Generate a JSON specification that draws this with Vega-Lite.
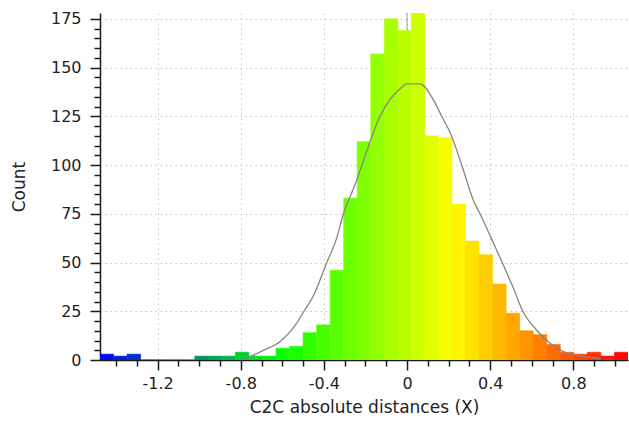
{
  "$schema": "https://vega.github.io/schema/vega-lite/v6.json",
  "width": 528,
  "height": 347,
  "autosize": {"type": "none"},
  "padding": {"left": 100, "top": 13, "right": 1, "bottom": 69},
  "background": "#ffffff",
  "config": {"view": {"stroke": null}, "font": "DejaVu Sans"},
  "datasets": {
    "bins": [
      {"x0": -1.4770, "x1": -1.4119, "count": 3},
      {"x0": -1.4119, "x1": -1.3467, "count": 2},
      {"x0": -1.3467, "x1": -1.2816, "count": 3},
      {"x0": -1.2816, "x1": -1.2165, "count": 0},
      {"x0": -1.2165, "x1": -1.1514, "count": 0},
      {"x0": -1.1514, "x1": -1.0862, "count": 0},
      {"x0": -1.0862, "x1": -1.0211, "count": 0},
      {"x0": -1.0211, "x1": -0.9560, "count": 2},
      {"x0": -0.9560, "x1": -0.8908, "count": 2},
      {"x0": -0.8908, "x1": -0.8257, "count": 2},
      {"x0": -0.8257, "x1": -0.7606, "count": 4},
      {"x0": -0.7606, "x1": -0.6955, "count": 2},
      {"x0": -0.6955, "x1": -0.6303, "count": 2},
      {"x0": -0.6303, "x1": -0.5652, "count": 6},
      {"x0": -0.5652, "x1": -0.5001, "count": 7},
      {"x0": -0.5001, "x1": -0.4350, "count": 14},
      {"x0": -0.4350, "x1": -0.3698, "count": 18},
      {"x0": -0.3698, "x1": -0.3047, "count": 46},
      {"x0": -0.3047, "x1": -0.2396, "count": 83},
      {"x0": -0.2396, "x1": -0.1744, "count": 112},
      {"x0": -0.1744, "x1": -0.1093, "count": 157},
      {"x0": -0.1093, "x1": -0.0442, "count": 175},
      {"x0": -0.0442, "x1": 0.0209, "count": 169},
      {"x0": 0.0209, "x1": 0.0861, "count": 179},
      {"x0": 0.0861, "x1": 0.1512, "count": 115},
      {"x0": 0.1512, "x1": 0.2163, "count": 114},
      {"x0": 0.2163, "x1": 0.2815, "count": 80},
      {"x0": 0.2815, "x1": 0.3466, "count": 61},
      {"x0": 0.3466, "x1": 0.4117, "count": 54},
      {"x0": 0.4117, "x1": 0.4768, "count": 39},
      {"x0": 0.4768, "x1": 0.5420, "count": 24},
      {"x0": 0.5420, "x1": 0.6071, "count": 15},
      {"x0": 0.6071, "x1": 0.6722, "count": 13},
      {"x0": 0.6722, "x1": 0.7374, "count": 8},
      {"x0": 0.7374, "x1": 0.8025, "count": 4},
      {"x0": 0.8025, "x1": 0.8676, "count": 3},
      {"x0": 0.8676, "x1": 0.9327, "count": 4},
      {"x0": 0.9327, "x1": 0.9979, "count": 2},
      {"x0": 0.9979, "x1": 1.0630, "count": 4}
    ],
    "curve": [
      {"d": -0.80, "n": 0},
      {"d": -0.75, "n": 2},
      {"d": -0.69, "n": 5},
      {"d": -0.61, "n": 9.5},
      {"d": -0.53, "n": 19},
      {"d": -0.496, "n": 25},
      {"d": -0.45, "n": 33},
      {"d": -0.386, "n": 50},
      {"d": -0.34, "n": 62},
      {"d": -0.306, "n": 75},
      {"d": -0.25, "n": 90},
      {"d": -0.217, "n": 100},
      {"d": -0.13, "n": 125},
      {"d": -0.08, "n": 134},
      {"d": -0.034, "n": 139},
      {"d": -0.002, "n": 141.6},
      {"d": 0.062, "n": 141.6},
      {"d": 0.127, "n": 133.4},
      {"d": 0.167, "n": 125},
      {"d": 0.21, "n": 116},
      {"d": 0.263, "n": 100},
      {"d": 0.319, "n": 82},
      {"d": 0.351, "n": 75},
      {"d": 0.407, "n": 62},
      {"d": 0.458, "n": 50},
      {"d": 0.511, "n": 37},
      {"d": 0.557, "n": 25},
      {"d": 0.623, "n": 15.4},
      {"d": 0.688, "n": 8.6},
      {"d": 0.752, "n": 4.3},
      {"d": 0.832, "n": 2},
      {"d": 0.912, "n": 0.9},
      {"d": 0.93, "n": 0.7}
    ]
  },
  "layer": [
    {
      "data": {"values": [{"v": 0}]},
      "mark": {"type": "rule", "color": "#9a9a9a", "strokeWidth": 1},
      "encoding": {
        "x": {"field": "v", "type": "quantitative", "scale": {"domain": [-1.477, 1.063], "nice": false, "zero": false}, "axis": null}
      }
    },
    {
      "data": {"name": "bins"},
      "mark": {"type": "rect", "clip": true, "strokeWidth": 0.6},
      "encoding": {
        "x": {
          "field": "x0", "type": "quantitative",
          "scale": {"domain": [-1.477, 1.063], "nice": false, "zero": false},
          "axis": {
            "orient": "bottom",
            "values": [-1.4, -1.3, -1.2, -1.1, -1.0, -0.9, -0.8, -0.7, -0.6, -0.5, -0.4, -0.3, -0.2, -0.1, 0, 0.1, 0.2, 0.3, 0.4, 0.5, 0.6, 0.7, 0.8, 0.9, 1.0],
            "labelExpr": "abs(datum.value * 2.5 - round(datum.value * 2.5)) < 0.001 ? toString(datum.value) : ''",
            "labelOverlap": false, "labelBound": false, "labelFlush": false,
            "title": "C2C absolute distances (X)",
            "domainColor": "#1a1a1a", "domainWidth": 1.5,
            "tickColor": "#1a1a1a", "tickWidth": 1.5,
            "tickSize": {"condition": {"test": "abs(datum.value * 2.5 - round(datum.value * 2.5)) < 0.001", "value": 10}, "value": 6},
            "grid": true, "gridColor": "#c4c4c4", "gridDash": [1.5, 3.5], "gridWidth": 1,
            "gridOpacity": {"condition": {"test": "abs(datum.value * 2.5 - round(datum.value * 2.5)) < 0.001", "value": 1}, "value": 0},
            "labelFontSize": 16, "labelColor": "#222222", "labelPadding": 5,
            "titleFontSize": 17, "titleFontWeight": "normal", "titleColor": "#222222", "titlePadding": 8
          }
        },
        "x2": {"field": "x1"},
        "y": {
          "field": "count", "type": "quantitative",
          "scale": {"domain": [0, 178], "nice": false},
          "axis": {
            "orient": "left",
            "values": [0, 5, 10, 15, 20, 25, 30, 35, 40, 45, 50, 55, 60, 65, 70, 75, 80, 85, 90, 95, 100, 105, 110, 115, 120, 125, 130, 135, 140, 145, 150, 155, 160, 165, 170, 175],
            "labelExpr": "datum.value % 25 == 0 ? toString(datum.value) : ''",
            "labelOverlap": false, "labelBound": false, "labelFlush": false,
            "title": "Count",
            "domainColor": "#1a1a1a", "domainWidth": 1.5,
            "tickColor": "#1a1a1a", "tickWidth": 1.5,
            "tickSize": {"condition": {"test": "datum.value % 25 == 0", "value": 10}, "value": 6},
            "grid": true, "gridColor": "#c4c4c4", "gridDash": [1.5, 3.5], "gridWidth": 1,
            "gridOpacity": {"condition": {"test": "datum.value % 25 == 0", "value": 1}, "value": 0},
            "labelFontSize": 16, "labelColor": "#222222", "labelPadding": 9,
            "titleFontSize": 17, "titleFontWeight": "normal", "titleColor": "#222222", "titlePadding": 22
          }
        },
        "y2": {"datum": 0},
        "color": {
          "field": "x0", "type": "quantitative", "legend": null,
          "scale": {"type": "linear", "domain": [-1.5096, -0.6629, 0.1837, 1.0304], "range": ["#0000ff", "#00ff00", "#ffff00", "#ff0000"], "interpolate": "rgb"}
        },
        "stroke": {
          "field": "x0", "type": "quantitative", "legend": null,
          "scale": {"type": "linear", "domain": [-1.5096, -0.6629, 0.1837, 1.0304], "range": ["#0000ff", "#00ff00", "#ffff00", "#ff0000"], "interpolate": "rgb"}
        }
      }
    },
    {
      "data": {"name": "curve"},
      "mark": {"type": "line", "color": "#858585", "strokeWidth": 1.3, "interpolate": "monotone"},
      "encoding": {
        "x": {"field": "d", "type": "quantitative", "scale": {"domain": [-1.477, 1.063], "nice": false, "zero": false}, "axis": null},
        "y": {"field": "n", "type": "quantitative", "scale": {"domain": [0, 178], "nice": false}, "axis": null}
      }
    }
  ],
  "resolve": {"axis": {"x": "independent", "y": "independent"}}
}
